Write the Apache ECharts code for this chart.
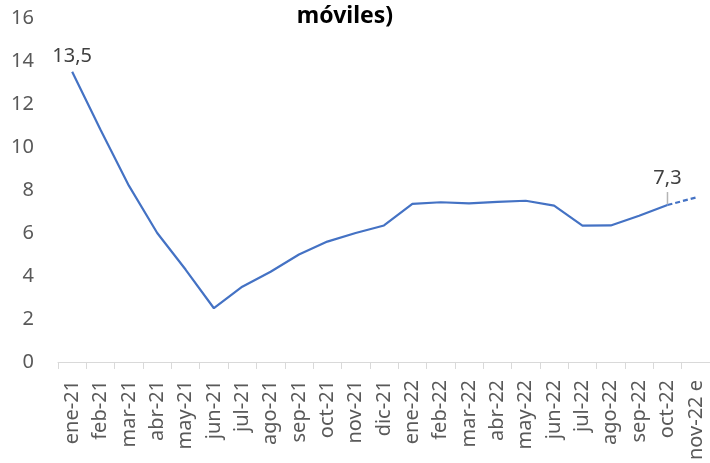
<!DOCTYPE html>
<html>
<head>
<meta charset="utf-8">
<script src="https://cdn.jsdelivr.net/npm/echarts@6/dist/echarts.min.js"></script>
<style>
  html, body { margin: 0; padding: 0; background: #fff; }
  #chart { width: 710px; height: 463px; }
</style>
</head>
<body>
<div id="chart"></div>
<script>
// meses (el último es estimado)
var meses = ['ene-21', 'feb-21', 'mar-21', 'abr-21', 'may-21', 'jun-21', 'jul-21', 'ago-21',
  'sep-21', 'oct-21', 'nov-21', 'dic-21', 'ene-22', 'feb-22', 'mar-22', 'abr-22', 'may-22',
  'jun-22', 'jul-22', 'ago-22', 'sep-22', 'oct-22', 'nov-22 e'];
// valores observados hasta oct-22
var valores = [13.5, 10.8, 8.2, 6.0, 4.3, 2.5, 3.5, 4.2, 5.0, 5.6, 6.0, 6.35, 7.35, 7.43, 7.38,
  7.45, 7.5, 7.27, 6.34, 6.35, 6.8, 7.3, null];
// tramo estimado oct-22 -> nov-22 e
var estimado = [null, null, null, null, null, null, null, null, null, null, null, null, null,
  null, null, null, null, null, null, null, null, 7.3, 7.65];
var titulo = 'móviles)';

var chart = echarts.init(document.getElementById('chart'));
var font = 'Noto Sans';
var fmt = function (v) { return v.toFixed(1).replace('.', ','); };
var ultimo = 21; // oct-22, último dato observado

var option = {
  animation: false,
  title: {
    text: titulo,
    left: 340,
    top: 0,
    textAlign: 'center',
    textStyle: { fontFamily: font, fontSize: 23, fontWeight: 'bold', color: '#000' }
  },
  // el gráfico original está recortado por la derecha
  grid: { left: 58, right: 0, top: 18, bottom: 100 },
  xAxis: {
    type: 'category',
    data: meses,
    boundaryGap: true,
    axisLine: { lineStyle: { color: '#d9d9d9' } },
    axisTick: { show: true, length: 7, lineStyle: { color: '#d9d9d9' } },
    axisLabel: {
      rotate: 90,
      interval: 0,
      margin: 18,
      fontFamily: font,
      fontSize: 20,
      color: '#595959'
    }
  },
  yAxis: {
    type: 'value',
    min: 0,
    max: 16,
    interval: 2,
    splitLine: { show: false },
    axisLine: { show: false },
    axisTick: { show: false },
    axisLabel: { margin: 24, fontFamily: font, fontSize: 20, color: '#595959' }
  },
  series: [
    {
      type: 'line',
      data: valores.map(function (v, i) {
        if (i === 0) {
          return { value: v, label: { show: true, position: 'top', offset: [-1, -2] } };
        }
        return v;
      }),
      showSymbol: true,
      symbol: 'circle',
      symbolSize: 0,
      lineStyle: { color: '#4472c4', width: 2.2 },
      itemStyle: { color: '#4472c4' },
      label: {
        fontFamily: font,
        fontSize: 20,
        color: '#404040',
        formatter: function (p) { return fmt(p.value); }
      },
      labelLayout: { moveOverlap: false, hideOverlap: false },
      markPoint: {
        silent: true,
        symbol: 'rect',
        symbolSize: [1.5, 12],
        symbolOffset: [0, -7],
        itemStyle: { color: '#b4b4b4' },
        label: {
          show: true,
          position: 'top',
          distance: 4,
          fontFamily: font,
          fontSize: 20,
          color: '#404040',
          formatter: function (p) { return fmt(p.value); }
        },
        data: [{ coord: [ultimo, valores[ultimo]], value: valores[ultimo] }]
      },
      z: 3
    },
    {
      type: 'line',
      data: estimado,
      showSymbol: false,
      symbol: 'none',
      lineStyle: { color: '#4472c4', width: 2.2, type: [5, 3] },
      z: 2
    }
  ]
};
chart.setOption(option);
</script>
</body>
</html>
